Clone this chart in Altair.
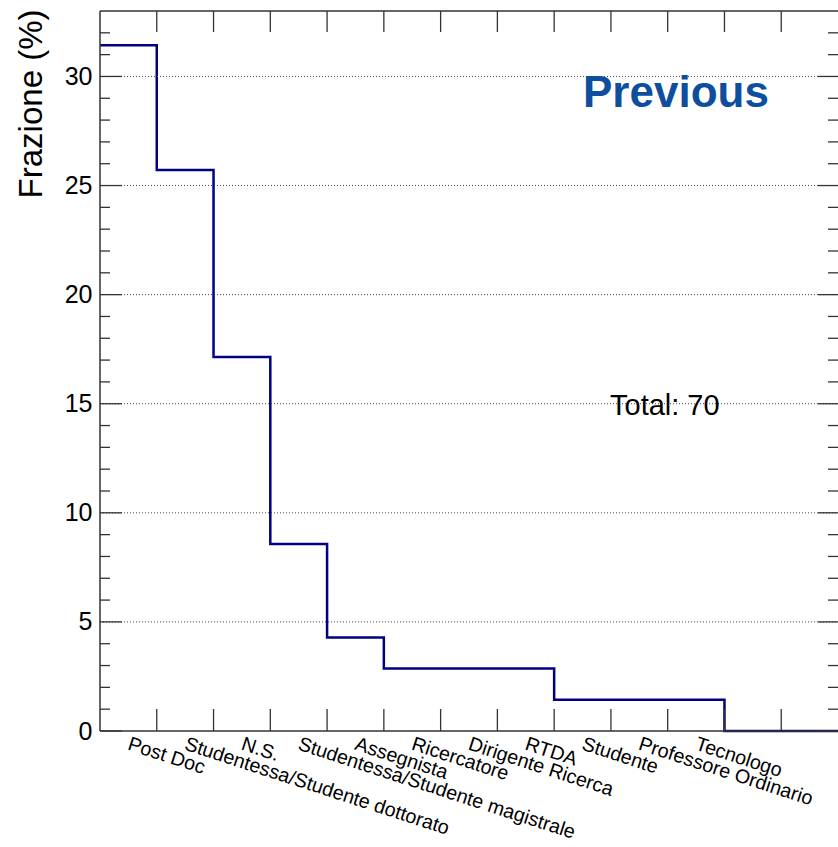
import altair as alt
import pandas as pd

# ---- data ----
categories = [
    "Post Doc",
    "Studentessa/Studente dottorato",
    "N.S.",
    "Studentessa/Studente magistrale",
    "Assegnista",
    "Ricercatore",
    "Dirigente Ricerca",
    "RTDA",
    "Studente",
    "Professore Ordinario",
    "Tecnologo",
]
fractions = [31.43, 25.71, 17.14, 8.57, 4.29, 2.86, 2.86, 2.86, 1.43, 1.43, 1.43, 0.0, 0.0]
n_bins = 13
y_major = [0, 5, 10, 15, 20, 25, 30]
y_grid = [5, 10, 15, 20, 25, 30]
y_minor = [v for v in range(1, 33) if v % 5 != 0]
x_edges = list(range(1, n_bins))
total_text = "Total: 70"
tag_text = "Previous"
y_title = "Frazione (%)"

# ---- style ----
W, H = 738, 720
FONT = "Liberation Sans"
LINE = "#000080"
FRAME = "#333333"

xs = alt.Scale(domain=[0, n_bins], nice=False, zero=False)
ys = alt.Scale(domain=[0, 33], nice=False)

step_df = pd.DataFrame({
    "edge": list(range(n_bins)) + [n_bins],
    "frac": fractions + [fractions[-1]],
})
label_df = pd.DataFrame({
    "center": [i + 0.5 for i in range(len(categories))],
    "name": categories,
    "zero": [0.0] * len(categories),
})
maj_df = pd.DataFrame({"v": y_major})
min_df = pd.DataFrame({"v": y_minor})
grid_df = pd.DataFrame({"v": y_grid})
edge_df = pd.DataFrame({"e": x_edges})

y_axis = alt.Axis(
    values=y_major,
    ticks=False,
    domain=False,
    grid=False,
    labelFont=FONT,
    labelFontSize=25,
    labelColor="black",
    labelPadding=8,
    labelFlush=False,
    title=y_title,
    titleFont=FONT,
    titleFontSize=33,
    titleFontWeight="normal",
    titleColor="black",
    titleAngle=270,
    titleAlign="right",
    titleBaseline="middle",
    titleX=-69,
    titleY=-2,
)

line = alt.Chart(step_df).mark_line(interpolate="step-after", color=LINE, strokeWidth=2.5).encode(
    x=alt.X("edge:Q", scale=xs, axis=None),
    y=alt.Y("frac:Q", scale=ys, axis=y_axis),
)

grid = alt.Chart(grid_df).mark_rule(color="#444", strokeWidth=1, strokeDash=[1, 2]).encode(
    y=alt.Y("v:Q", scale=ys, axis=None), x=alt.value(0), x2=alt.value(W)
)

# frame on left, top and bottom (the right side lies beyond the picture)
frame_df = pd.DataFrame({"k": ["left"]})
frame = [
    alt.Chart(frame_df).mark_rule(color=FRAME, strokeWidth=1.5).encode(
        x=alt.value(0), y=alt.value(0), y2=alt.value(H)
    ),
    alt.Chart(frame_df).mark_rule(color=FRAME, strokeWidth=1.5).encode(
        y=alt.value(0), x=alt.value(0), x2=alt.value(W)
    ),
    alt.Chart(frame_df).mark_rule(color=FRAME, strokeWidth=1.5).encode(
        y=alt.value(H), x=alt.value(0), x2=alt.value(W)
    ),
]

def yticks(df, x_from, x_to):
    return alt.Chart(df).mark_rule(color=FRAME, strokeWidth=1.3).encode(
        y=alt.Y("v:Q", scale=ys, axis=None), x=alt.value(x_from), x2=alt.value(x_to)
    )

def xticks(y_from, y_to):
    return alt.Chart(edge_df).mark_rule(color=FRAME, strokeWidth=1.3).encode(
        x=alt.X("e:Q", scale=xs, axis=None), y=alt.value(y_from), y2=alt.value(y_to)
    )

ticks = [
    yticks(maj_df, 0, 22),
    yticks(min_df, 0, 10),
    yticks(maj_df, W, W - 20),
    yticks(min_df, W, W - 10),
    xticks(H, H - 22),
    xticks(0, 21),
]

labels = alt.Chart(label_df).mark_text(
    align="left", baseline="alphabetic", angle=18, fontSize=19.7, font=FONT, color="black",
    dx=4, dy=18
).encode(
    x=alt.X("center:Q", scale=xs, axis=None),
    y=alt.Y("zero:Q", scale=ys, axis=None),
    text="name:N",
)

tag = alt.Chart(pd.DataFrame({"t": [tag_text]})).mark_text(
    align="left", baseline="alphabetic", fontSize=44, fontWeight="bold", font=FONT, color="#0d4f9e"
).encode(x=alt.value(483), y=alt.value(96), text="t:N")

total = alt.Chart(pd.DataFrame({"t": [total_text]})).mark_text(
    align="left", baseline="alphabetic", fontSize=29, font=FONT, color="black"
).encode(x=alt.value(510), y=alt.value(404), text="t:N")

chart = alt.layer(line, grid, *frame, *ticks, labels, tag, total).resolve_axis(
    x="independent", y="independent"
).properties(
    width=W,
    height=H,
    padding={"left": 100, "top": 11, "right": 0, "bottom": 116},
    autosize=alt.AutoSizeParams(type="none"),
).configure_view(stroke=None)

chart.save("out.html", embed_options={"renderer": "svg", "actions": False})
